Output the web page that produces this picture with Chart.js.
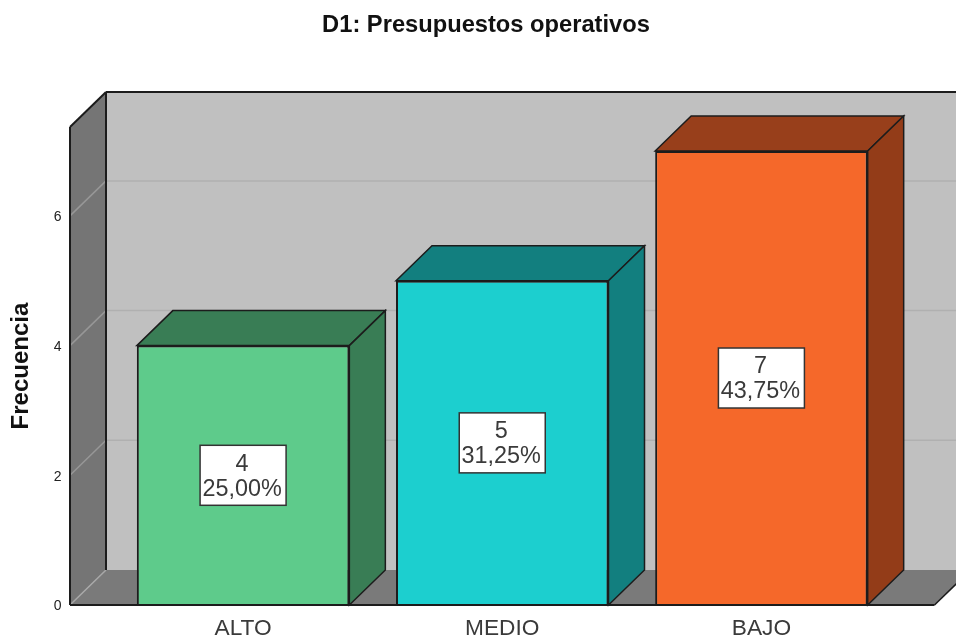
<!DOCTYPE html>
<html>
  <head>
    <meta charset="utf-8">
    <title>D1: Presupuestos operativos</title>
    <style>
      html, body { margin: 0; padding: 0; background: #fff; overflow: hidden; }
      canvas { display: block; }
    </style>
  </head>
  <body>
    <canvas id="myChart" width="956" height="639"></canvas>

    <script src="https://cdn.jsdelivr.net/npm/chart.js@4/dist/chart.umd.min.js"></script>
    <script>
      var categories = ['ALTO', 'MEDIO', 'BAJO'];
      var frecuencia = [4, 5, 7];
      var porcentajes = ['25,00%', '31,25%', '43,75%'];
      var yTicks = [0, 2, 4, 6];

      var frontColors = ['#5ecb8b', '#1ccfcf', '#f5682a'];
      var topColors = ['#397d55', '#127f7f', '#983f1b'];
      var sideColors = ['#397d55', '#127f7f', '#933c18'];

      var dx = 36, dy = 35; // depth of the 3D box
      var margin = 43.5;    // floor extends past the category bands
      var lineColor = '#1c1c1c';
      var fontName = '"Liberation Sans", Arial, sans-serif';

      function poly(ctx, pts, fill, stroke, lw) {
        ctx.beginPath();
        ctx.moveTo(pts[0][0], pts[0][1]);
        for (var i = 1; i < pts.length; i++) ctx.lineTo(pts[i][0], pts[i][1]);
        ctx.closePath();
        if (fill) { ctx.fillStyle = fill; ctx.fill(); }
        if (stroke) { ctx.strokeStyle = stroke; ctx.lineWidth = lw || 1; ctx.stroke(); }
      }

      function line(ctx, x1, y1, x2, y2, color, lw) {
        ctx.beginPath();
        ctx.moveTo(x1, y1);
        ctx.lineTo(x2, y2);
        ctx.strokeStyle = color;
        ctx.lineWidth = lw;
        ctx.stroke();
      }

      var box3d = {
        id: 'box3d',
        afterLayout: function(chart) {
          // title sits a bit right of the canvas centre
          chart.titleBlock.left += 40.5;
          chart.titleBlock.right += 40.5;
        },
        beforeDatasetsDraw: function(chart) {
          var ctx = chart.ctx, y = chart.scales.y, area = chart.chartArea;
          var l = area.left - margin, r = area.right + margin;
          var t = area.top, b = area.bottom;
          ctx.save();

          // back wall, left wall, floor
          poly(ctx, [[l + dx, t - dy], [r + dx, t - dy], [r + dx, b - dy], [l + dx, b - dy]], '#c0c0c0');
          poly(ctx, [[l, t], [l + dx, t - dy], [l + dx, b - dy], [l, b]], '#757575');
          poly(ctx, [[l, b], [l + dx, b - dy], [r + dx, b - dy], [r, b]], '#7a7a7a');

          // grid on the walls
          yTicks.forEach(function(v) {
            if (v === 0) return;
            var py = y.getPixelForValue(v);
            line(ctx, l, py, l + dx, py - dy, '#979797', 1.5);
            line(ctx, l + dx, py - dy, r + dx, py - dy, '#b0b0b0', 1.5);
          });
          line(ctx, l, b, l + dx, b - dy, '#a8a8a8', 1.5);

          // outlines of the box
          line(ctx, l + dx, t - dy, r + dx, t - dy, lineColor, 2);
          line(ctx, l + dx, t - dy, l + dx, b - dy, lineColor, 2);
          line(ctx, l, t, l + dx, t - dy, lineColor, 2);
          line(ctx, l, t, l, b, lineColor, 2);
          line(ctx, r, b, r + dx, b - dy, lineColor, 1.5);

          // top and side of every bar
          var bars = chart.getDatasetMeta(0).data;
          bars.forEach(function(bar, i) {
            var x1 = bar.x - bar.width / 2, x2 = bar.x + bar.width / 2;
            poly(ctx, [[x1, bar.y], [x1 + dx, bar.y - dy], [x2 + dx, bar.y - dy], [x2, bar.y]], topColors[i], lineColor, 1.5);
            poly(ctx, [[x2, bar.y], [x2 + dx, bar.y - dy], [x2 + dx, bar.base - dy], [x2, bar.base]], sideColors[i], lineColor, 1.5);
          });
          ctx.restore();
        },
        afterDatasetsDraw: function(chart) {
          var ctx = chart.ctx, area = chart.chartArea;
          var bars = chart.getDatasetMeta(0).data;
          ctx.save();

          // baseline goes over the feet of the bars
          line(ctx, area.left - margin, area.bottom, area.right + margin, area.bottom, lineColor, 2);

          bars.forEach(function(bar, i) {
            var cy = (bar.y + bar.base) / 2;
            ctx.fillStyle = '#fff';
            ctx.strokeStyle = '#333';
            ctx.lineWidth = 1.5;
            ctx.fillRect(bar.x - 43, cy - 30, 86, 60);
            ctx.strokeRect(bar.x - 43, cy - 30, 86, 60);
            ctx.fillStyle = '#3a3a3a';
            ctx.font = '23.4px ' + fontName;
            ctx.textAlign = 'center';
            ctx.textBaseline = 'middle';
            ctx.fillText(String(frecuencia[i]), bar.x - 1, cy - 11);
            ctx.fillText(porcentajes[i], bar.x - 1, cy + 14);
          });
          ctx.restore();
        }
      };

      var chart = new Chart(document.getElementById('myChart').getContext('2d'), {
        type: 'bar',
        data: {
          labels: categories,
          datasets: [{
            label: 'Frecuencia',
            data: frecuencia,
            backgroundColor: frontColors,
            borderColor: lineColor,
            borderWidth: 2,
            categoryPercentage: 1,
            barPercentage: 0.82
          }]
        },
        options: {
          responsive: false,
          animation: false,
          layout: { padding: { left: 0, right: 65, top: 0, bottom: 0 } },
          plugins: {
            legend: { display: false },
            tooltip: { enabled: false },
            title: {
              display: true,
              text: 'D1: Presupuestos operativos',
              color: '#111',
              font: { family: fontName, size: 23.7, weight: 'bold' },
              padding: { top: 10.8, bottom: 87.8 }
            }
          },
          scales: {
            x: {
              grid: { display: false, drawTicks: false },
              border: { display: false },
              afterFit: function(scale) { scale.height = 34; },
              ticks: {
                color: '#3a3a3a',
                padding: 10,
                maxRotation: 0,
                font: { family: fontName, size: 22.7 }
              }
            },
            y: {
              min: 0,
              max: 7.37,
              grid: { display: false, drawTicks: false },
              border: { display: false },
              afterFit: function(scale) {
                scale.width = 113.5;
                // big tick padding would otherwise push the plot up from the bottom
                scale.paddingTop = 0;
                scale.paddingBottom = 0;
              },
              title: {
                display: true,
                text: 'Frecuencia',
                color: '#111',
                font: { family: fontName, size: 24, weight: 'bold' },
                padding: { top: 7, bottom: 0 }
              },
              ticks: {
                color: '#222',
                padding: 52,
                stepSize: 2,
                labelOffset: 1.5,
                includeBounds: false,
                font: { family: fontName, size: 14 }
              }
            }
          }
        },
        plugins: [box3d]
      });
    </script>
  </body>
</html>
